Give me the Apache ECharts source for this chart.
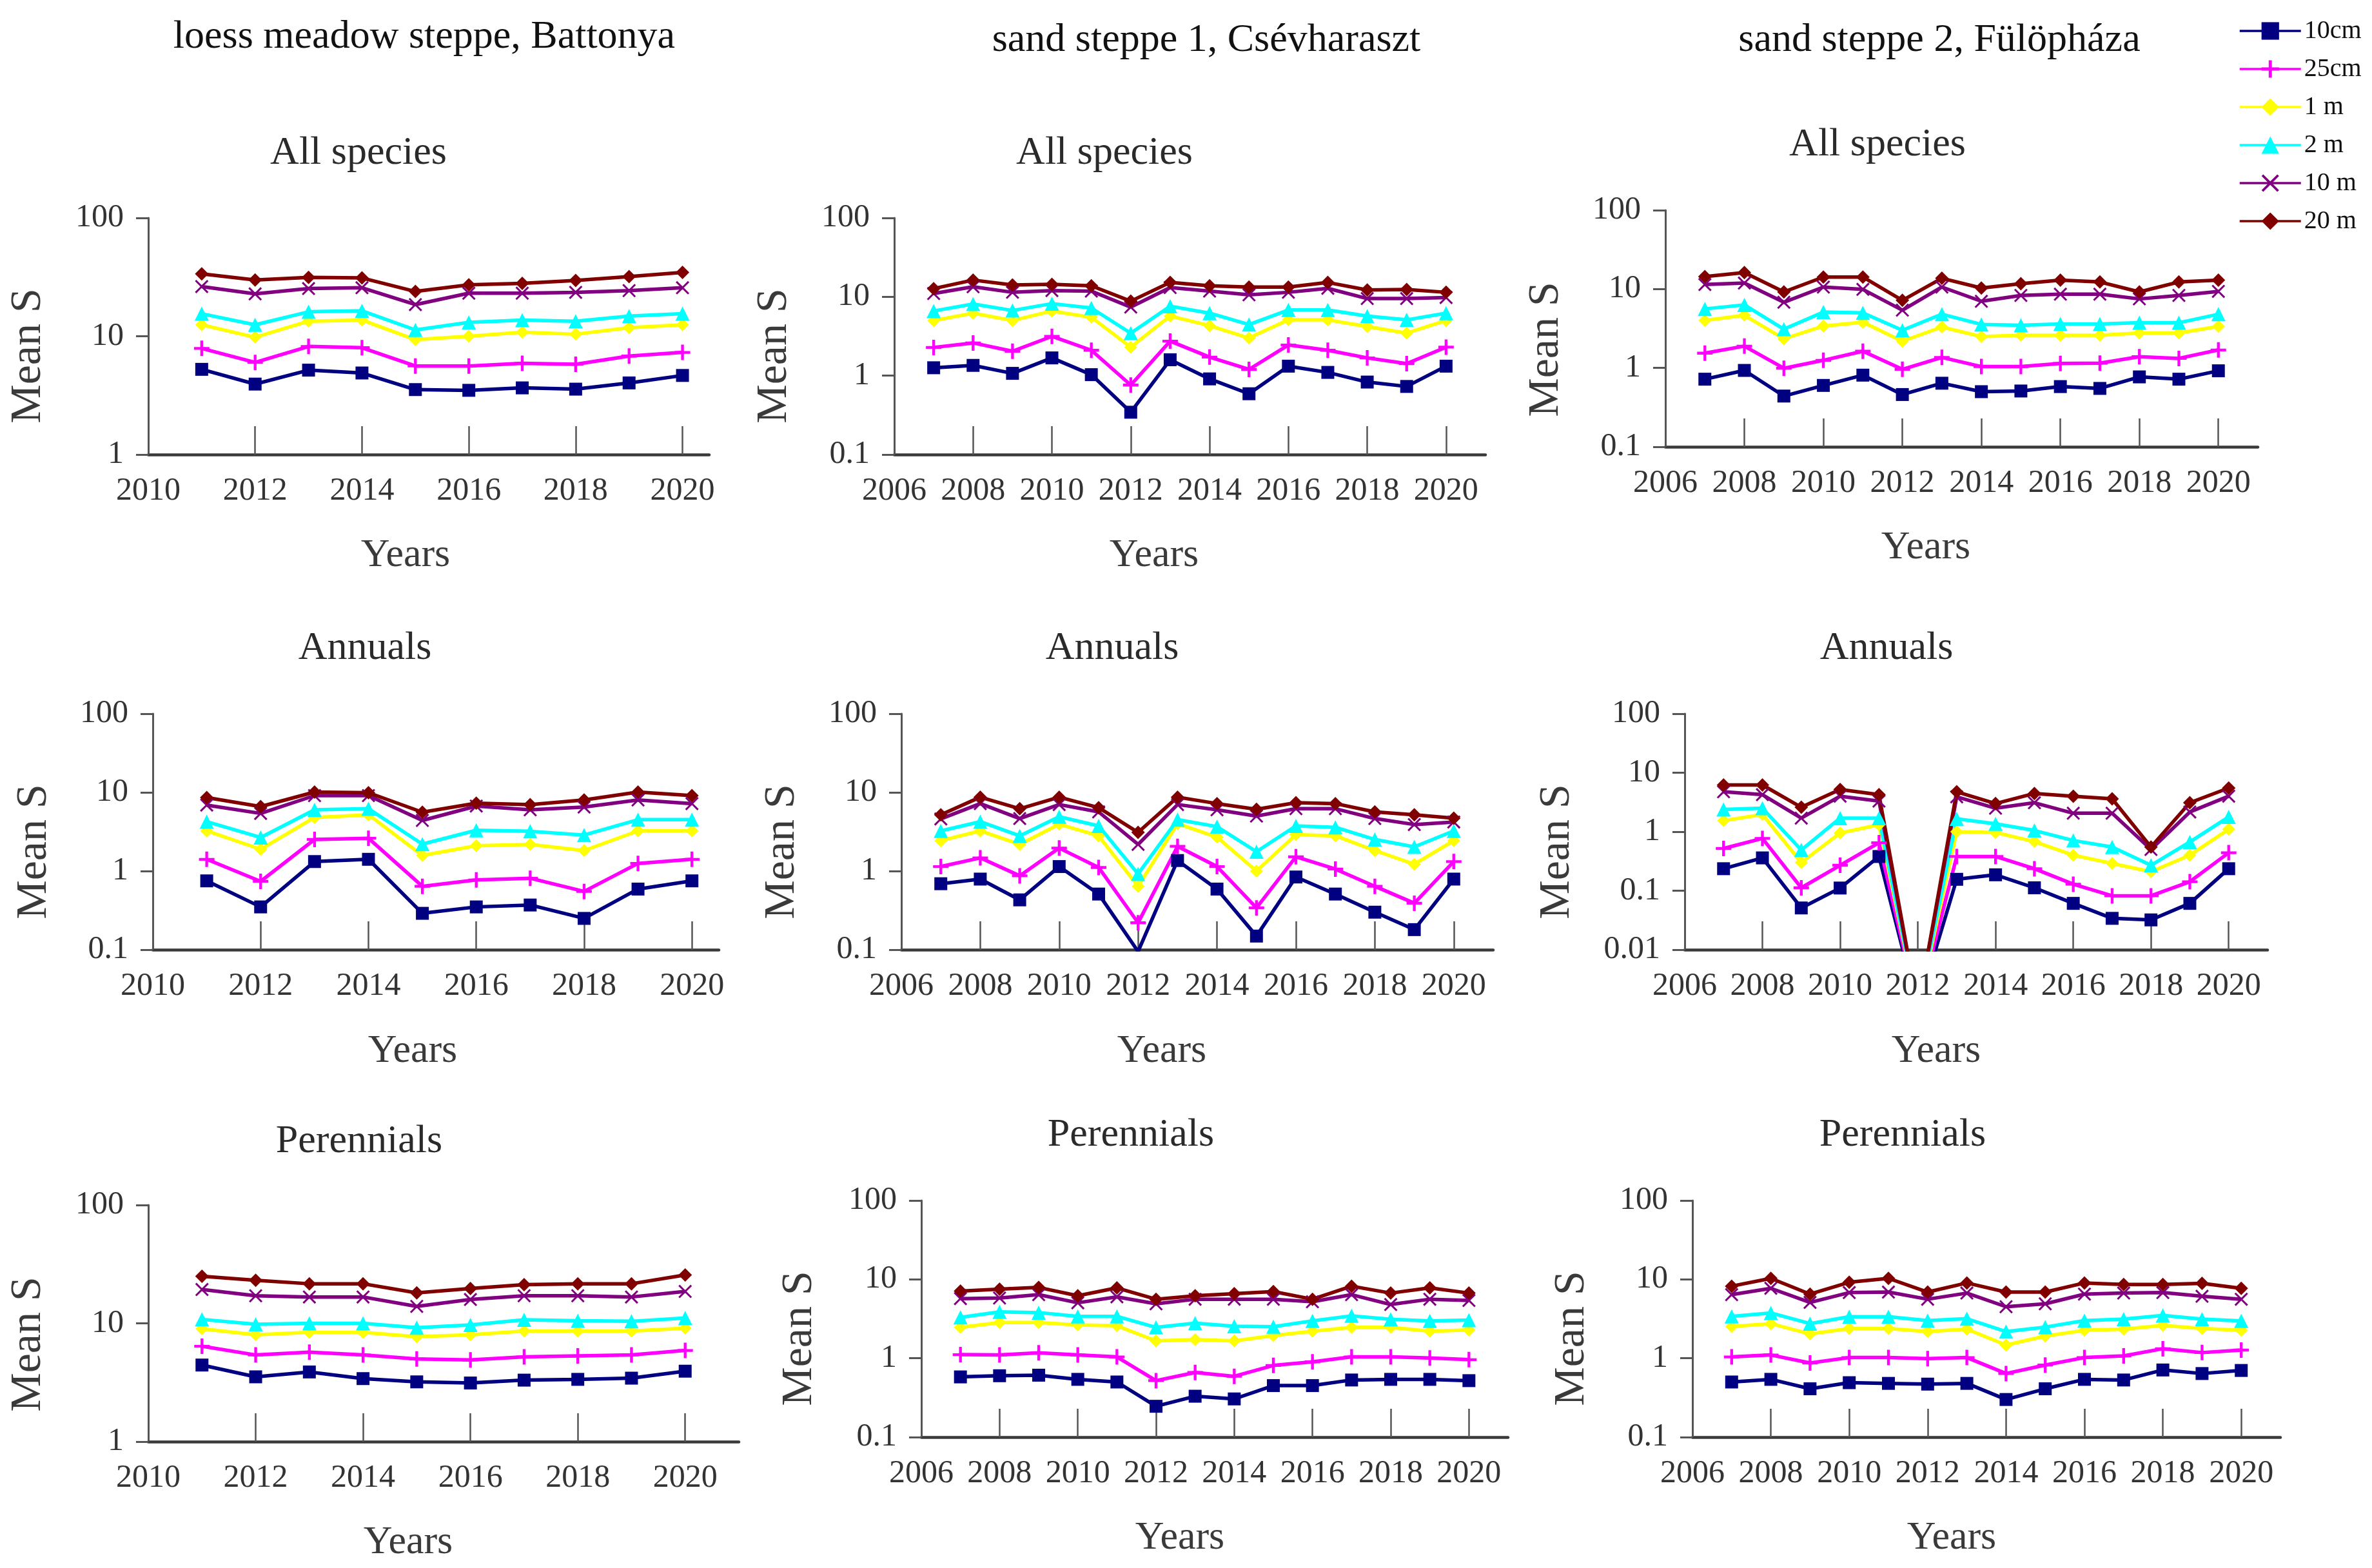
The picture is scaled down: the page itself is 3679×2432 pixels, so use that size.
<!DOCTYPE html>
<html>
<head>
<meta charset="utf-8">
<script src="https://cdn.jsdelivr.net/npm/echarts@6/dist/echarts.min.js"></script>
<style>
html,body{margin:0;padding:0;background:#fff;}
#chart{width:3679px;height:2432px;}
</style>
</head>
<body>
<div id="chart"></div>
<script>
// ---------- categories / ticks ----------
const seriesNames = ['10cm', '25cm', '1 m', '2 m', '10 m', '20 m'];
const siteTitles = ['loess meadow steppe, Battonya', 'sand steppe 1, Csévharaszt', 'sand steppe 2, Fülöpháza'];
const groupTitles = ['All species', 'Annuals', 'Perennials'];
const axisNameX = 'Years';
const axisNameY = 'Mean S';

const yearsBattonya = [2011, 2012, 2013, 2014, 2015, 2016, 2017, 2018, 2019, 2020];
const yearsSand = [2007, 2008, 2009, 2010, 2011, 2012, 2013, 2014, 2015, 2016, 2017, 2018, 2019, 2020];
const xTicksBattonya = [2010, 2012, 2014, 2016, 2018, 2020];
const xTicksSand = [2006, 2008, 2010, 2012, 2014, 2016, 2018, 2020];
const yTicks1 = [1, 10, 100];
const yTicks01 = [0.1, 1, 10, 100];
const yTicks001 = [0.01, 0.1, 1, 10, 100];

// ---------- Battonya, All species (2011-2020) ----------
const batAll10cm = [5.25, 3.94, 5.17, 4.89, 3.54, 3.49, 3.66, 3.57, 4.03, 4.66];
const batAll25cm = [7.9, 6.0, 8.2, 8.0, 5.6, 5.6, 5.9, 5.8, 6.8, 7.3];
const batAll1m = [12.5, 9.8, 13.4, 13.7, 9.35, 10.0, 10.8, 10.4, 11.8, 12.5];
const batAll2m = [15.5, 12.5, 16.1, 16.4, 11.3, 13.1, 13.7, 13.4, 14.8, 15.5];
const batAll10m = [26.3, 22.8, 25.3, 25.7, 18.5, 23.1, 23.1, 23.5, 24.3, 25.7];
const batAll20m = [33.7, 29.9, 31.4, 31.1, 23.9, 27.2, 28.0, 29.6, 31.9, 34.6];

// ---------- Csévharaszt, All species (2007-2020) ----------
const csvAll10cm = [1.26, 1.35, 1.07, 1.68, 1.03, 0.344, 1.59, 0.91, 0.59, 1.32, 1.1, 0.83, 0.73, 1.32];
const csvAll25cm = [2.28, 2.6, 2.04, 3.15, 2.1, 0.76, 2.74, 1.72, 1.2, 2.45, 2.1, 1.68, 1.42, 2.3];
const csvAll1m = [5.0, 6.2, 5.0, 6.6, 5.5, 2.3, 5.7, 4.3, 3.0, 5.1, 5.1, 4.2, 3.46, 5.0];
const csvAll2m = [6.6, 8.1, 6.7, 8.2, 7.2, 3.46, 7.6, 6.2, 4.45, 6.8, 6.8, 5.7, 5.1, 6.2];
const csvAll10m = [11.0, 13.4, 11.4, 12.0, 11.8, 7.4, 13.1, 11.8, 10.6, 11.4, 12.8, 9.5, 9.5, 9.8];
const csvAll20m = [12.7, 16.3, 14.1, 14.4, 13.8, 8.8, 15.2, 13.8, 13.3, 13.3, 15.2, 12.2, 12.4, 11.4];

// ---------- Fülöpháza, All species (2007-2020) ----------
const fulAll10cm = [0.72, 0.93, 0.44, 0.6, 0.81, 0.46, 0.64, 0.5, 0.51, 0.58, 0.55, 0.77, 0.72, 0.92];
const fulAll25cm = [1.54, 1.89, 0.99, 1.25, 1.63, 0.96, 1.36, 1.04, 1.04, 1.14, 1.15, 1.39, 1.32, 1.69];
const fulAll1m = [4.0, 4.65, 2.34, 3.4, 3.8, 2.18, 3.3, 2.5, 2.6, 2.6, 2.6, 2.77, 2.77, 3.36];
const fulAll2m = [5.6, 6.3, 3.1, 5.1, 5.0, 3.0, 4.8, 3.56, 3.48, 3.6, 3.6, 3.74, 3.74, 4.8];
const fulAll10m = [11.4, 11.9, 6.8, 10.6, 9.9, 5.4, 10.6, 7.0, 8.3, 8.6, 8.6, 7.5, 8.3, 9.35];
const fulAll20m = [14.4, 16.2, 9.2, 14.2, 14.2, 7.2, 13.7, 10.3, 11.7, 13.0, 12.3, 9.2, 12.3, 13.0];

// ---------- Battonya, Annuals ----------
const batAnn10cm = [0.75, 0.35, 1.32, 1.41, 0.29, 0.35, 0.37, 0.25, 0.59, 0.75];
const batAnn25cm = [1.41, 0.74, 2.52, 2.61, 0.64, 0.77, 0.81, 0.55, 1.25, 1.41];
const batAnn1m = [3.24, 1.89, 4.8, 5.2, 1.58, 2.1, 2.18, 1.82, 3.24, 3.24];
const batAnn2m = [4.24, 2.67, 6.0, 6.2, 2.2, 3.3, 3.2, 2.87, 4.5, 4.5];
const batAnn10m = [6.9, 5.4, 9.1, 9.1, 4.4, 6.7, 6.0, 6.5, 8.0, 7.2];
const batAnn20m = [8.6, 6.6, 10.1, 9.9, 5.6, 7.3, 7.0, 8.0, 10.1, 9.1];

// ---------- Csévharaszt, Annuals ----------
const csvAnn10cm = [0.69, 0.79, 0.43, 1.14, 0.51, 0.095, 1.36, 0.59, 0.149, 0.84, 0.51, 0.30, 0.18, 0.79];
const csvAnn25cm = [1.14, 1.47, 0.87, 1.96, 1.11, 0.22, 2.06, 1.14, 0.34, 1.52, 1.06, 0.64, 0.39, 1.32];
const csvAnn1m = [2.43, 3.24, 2.18, 3.94, 2.8, 0.64, 4.0, 2.7, 1.0, 2.9, 2.8, 1.82, 1.22, 2.43];
const csvAnn2m = [3.24, 4.24, 2.8, 4.9, 3.75, 0.92, 4.5, 3.67, 1.76, 3.75, 3.6, 2.52, 2.03, 3.24];
const csvAnn10m = [4.6, 7.2, 4.65, 7.0, 5.65, 2.18, 7.0, 6.0, 5.0, 6.2, 6.2, 4.65, 3.9, 4.2];
const csvAnn20m = [5.2, 8.7, 6.2, 8.7, 6.4, 3.1, 8.7, 7.2, 6.1, 7.4, 7.2, 5.65, 5.2, 4.7];

// ---------- Fülöpháza, Annuals (2012 = 0) ----------
const fulAnn10cm = [0.236, 0.36, 0.051, 0.111, 0.38, 0, 0.156, 0.186, 0.112, 0.061, 0.034, 0.032, 0.061, 0.236];
const fulAnn25cm = [0.52, 0.77, 0.112, 0.27, 0.65, 0, 0.38, 0.38, 0.236, 0.129, 0.082, 0.082, 0.142, 0.44];
const fulAnn1m = [1.54, 1.96, 0.3, 0.95, 1.31, 0, 1.0, 0.97, 0.68, 0.4, 0.29, 0.21, 0.4, 1.1];
const fulAnn2m = [2.38, 2.5, 0.49, 1.7, 1.7, 0, 1.65, 1.36, 1.05, 0.71, 0.55, 0.27, 0.67, 1.78];
const fulAnn10m = [4.75, 4.24, 1.7, 4.0, 3.3, 0, 3.9, 2.5, 3.1, 2.06, 2.06, 0.5, 2.16, 4.0];
const fulAnn20m = [6.2, 6.2, 2.6, 5.2, 4.24, 0, 4.75, 3.0, 4.45, 4.0, 3.6, 0.55, 3.1, 5.5];

// ---------- Battonya, Perennials ----------
const batPer10cm = [4.44, 3.53, 3.88, 3.41, 3.2, 3.13, 3.31, 3.36, 3.44, 3.94];
const batPer25cm = [6.4, 5.4, 5.7, 5.4, 5.0, 4.9, 5.2, 5.3, 5.4, 5.9];
const batPer1m = [9.0, 8.0, 8.4, 8.4, 7.7, 8.0, 8.6, 8.6, 8.6, 9.1];
const batPer2m = [10.8, 9.8, 10.0, 10.0, 9.2, 9.7, 10.7, 10.5, 10.4, 11.1];
const batPer10m = [19.3, 17.1, 16.7, 16.7, 13.9, 15.9, 17.1, 17.1, 16.7, 18.6];
const batPer20m = [25.0, 23.1, 21.6, 21.6, 18.1, 19.7, 21.2, 21.6, 21.6, 25.6];

// ---------- Csévharaszt, Perennials ----------
const csvPer10cm = [0.58, 0.6, 0.61, 0.54, 0.5, 0.246, 0.33, 0.305, 0.45, 0.45, 0.53, 0.54, 0.54, 0.52];
const csvPer25cm = [1.11, 1.1, 1.17, 1.1, 1.04, 0.52, 0.66, 0.59, 0.81, 0.9, 1.04, 1.04, 1.01, 0.96];
const csvPer1m = [2.46, 2.84, 2.84, 2.64, 2.58, 1.66, 1.72, 1.66, 1.94, 2.2, 2.46, 2.46, 2.2, 2.29];
const csvPer2m = [3.3, 3.87, 3.79, 3.4, 3.4, 2.46, 2.78, 2.55, 2.51, 2.98, 3.45, 3.12, 2.98, 3.05];
const csvPer10m = [5.7, 5.8, 6.4, 5.05, 6.0, 4.9, 5.6, 5.6, 5.6, 5.2, 6.4, 4.8, 5.6, 5.4];
const csvPer20m = [7.1, 7.5, 7.9, 6.2, 7.8, 5.6, 6.2, 6.6, 7.0, 5.6, 8.2, 6.7, 7.8, 6.7];

// ---------- Fülöpháza, Perennials ----------
const fulPer10cm = [0.50, 0.54, 0.41, 0.49, 0.48, 0.47, 0.48, 0.30, 0.41, 0.54, 0.53, 0.71, 0.64, 0.70];
const fulPer25cm = [1.04, 1.1, 0.87, 1.02, 1.02, 0.99, 1.02, 0.64, 0.82, 1.02, 1.07, 1.32, 1.18, 1.27];
const fulPer1m = [2.52, 2.75, 2.03, 2.38, 2.38, 2.18, 2.34, 1.47, 1.91, 2.26, 2.34, 2.61, 2.38, 2.26];
const fulPer2m = [3.4, 3.75, 2.75, 3.36, 3.36, 3.0, 3.17, 2.18, 2.48, 3.0, 3.13, 3.49, 3.13, 2.97];
const fulPer10m = [6.4, 7.7, 5.1, 6.8, 6.9, 5.6, 6.7, 4.5, 4.9, 6.5, 6.7, 6.8, 6.1, 5.6];
const fulPer20m = [8.2, 10.3, 6.5, 9.2, 10.3, 6.9, 9.0, 6.9, 6.9, 9.0, 8.6, 8.6, 8.9, 7.7];

// ---------- styles ----------
const FONT = '"Liberation Serif", "DejaVu Serif", serif';
const COLORS = ['#000080', '#ff00ff', '#ffff00', '#00ffff', '#800080', '#800000'];
const PLUS = 'path://M4.1,0 L5.9,0 L5.9,4.1 L10,4.1 L10,5.9 L5.9,5.9 L5.9,10 L4.1,10 L4.1,5.9 L0,5.9 L0,4.1 L4.1,4.1 Z';
const XMARK = 'path://M1,0 L5,4 L9,0 L10,1 L6,5 L10,9 L9,10 L5,6 L1,10 L0,9 L4,5 L0,1 Z';
const SYMBOLS = ['rect', PLUS, 'diamond', 'triangle', XMARK, 'diamond'];
const SIZES = [20, 24, 20, 22, 21, 21];
// zero counts cannot sit on a log axis: drawn far below the axis floor (and clipped), like the source
const ZERO_ON_LOG = 0.001;

const panels = [
  { left: 230,  top: 338,  width: 870, height: 367, years: yearsBattonya, xt: xTicksBattonya, xmax: 2020.5, yt: yTicks1,
    data: [batAll10cm, batAll25cm, batAll1m, batAll2m, batAll10m, batAll20m],
    title: [556, 238], yname: [44, 552], xname: [629, 862] },
  { left: 1387, top: 338,  width: 917, height: 367, years: yearsSand, xt: xTicksSand, xmax: 2021, yt: yTicks01,
    data: [csvAll10cm, csvAll25cm, csvAll1m, csvAll2m, csvAll10m, csvAll20m],
    title: [1713, 238], yname: [1201, 552], xname: [1790, 862] },
  { left: 2583, top: 326,  width: 919, height: 367, years: yearsSand, xt: xTicksSand, xmax: 2021, yt: yTicks01,
    data: [fulAll10cm, fulAll25cm, fulAll1m, fulAll2m, fulAll10m, fulAll20m],
    title: [2912, 225], yname: [2398, 542], xname: [2987, 850] },
  { left: 237,  top: 1107, width: 878, height: 366, years: yearsBattonya, xt: xTicksBattonya, xmax: 2020.5, yt: yTicks01,
    data: [batAnn10cm, batAnn25cm, batAnn1m, batAnn2m, batAnn10m, batAnn20m],
    title: [566, 1006], yname: [53, 1321], xname: [640, 1631] },
  { left: 1398, top: 1107, width: 918, height: 366, years: yearsSand, xt: xTicksSand, xmax: 2021, yt: yTicks01,
    data: [csvAnn10cm, csvAnn25cm, csvAnn1m, csvAnn2m, csvAnn10m, csvAnn20m],
    title: [1725, 1006], yname: [1213, 1321], xname: [1802, 1631] },
  { left: 2613, top: 1107, width: 904, height: 366, years: yearsSand, xt: xTicksSand, xmax: 2021, yt: yTicks001,
    data: [fulAnn10cm, fulAnn25cm, fulAnn1m, fulAnn2m, fulAnn10m, fulAnn20m],
    title: [2926, 1006], yname: [2415, 1321], xname: [3003, 1631] },
  { left: 230,  top: 1869, width: 916, height: 367, years: yearsBattonya, xt: xTicksBattonya, xmax: 2021, yt: yTicks1,
    data: [batPer10cm, batPer25cm, batPer1m, batPer2m, batPer10m, batPer20m],
    title: [557, 1771], yname: [44, 2085], xname: [633, 2393] },
  { left: 1429, top: 1862, width: 910, height: 367, years: yearsSand, xt: xTicksSand, xmax: 2021, yt: yTicks01,
    data: [csvPer10cm, csvPer25cm, csvPer1m, csvPer2m, csvPer10m, csvPer20m],
    title: [1754, 1761], yname: [1240, 2076], xname: [1830, 2386] },
  { left: 2625, top: 1862, width: 912, height: 367, years: yearsSand, xt: xTicksSand, xmax: 2021, yt: yTicks01,
    data: [fulPer10cm, fulPer25cm, fulPer1m, fulPer2m, fulPer10m, fulPer20m],
    title: [2951, 1761], yname: [2438, 2076], xname: [3027, 2386] }
];
const siteTitlePos = [[658, 58], [1871, 63], [3008, 63]];

const grids = [], xAxes = [], yAxes = [], series = [], graphics = [];
panels.forEach((p, i) => {
  grids.push({ left: p.left, top: p.top, width: p.width, height: p.height, containLabel: false, outerBoundsMode: 'none' });
  xAxes.push({
    gridIndex: i, type: 'value', min: p.xt[0], max: p.xmax,
    axisLine: { onZero: false, lineStyle: { color: '#3a3a3a', width: 4.5 } },
    axisTick: { show: true, inside: true, length: 44, customValues: p.xt, lineStyle: { color: '#555', width: 2.5 } },
    axisLabel: { customValues: p.xt, margin: 32, fontSize: 50, fontFamily: FONT, color: '#333',
      formatter: v => String(Math.round(v)) },
    splitLine: { show: false }
  });
  yAxes.push({
    gridIndex: i, type: 'log', logBase: 10, min: p.yt[0], max: p.yt[p.yt.length - 1],
    axisLine: { show: true, lineStyle: { color: '#555', width: 3 } },
    axisTick: { show: true, inside: false, length: 19, lineStyle: { color: '#555', width: 3 } },
    axisLabel: { margin: 38, fontSize: 50, fontFamily: FONT, color: '#333',
      formatter: v => String(+Number(v).toPrecision(4)) },
    splitLine: { show: false }
  });
  p.data.forEach((arr, j) => {
    series.push({
      name: seriesNames[j], type: 'line', xAxisIndex: i, yAxisIndex: i, clip: true,
      symbol: SYMBOLS[j], symbolSize: SIZES[j],
      itemStyle: { color: COLORS[j] },
      lineStyle: { color: COLORS[j], width: 5.5 },
      emphasis: { disabled: true },
      animation: false,
      data: p.years.map((yr, k) => arr[k] === 0
        ? { value: [yr, ZERO_ON_LOG], symbol: 'none' }
        : [yr, arr[k]])
    });
  });
  const row = Math.floor(i / 3);
  graphics.push({ type: 'text', x: p.title[0], y: p.title[1],
    style: { text: groupTitles[row], fontSize: 62, fontFamily: FONT, fill: '#2a2a2a', align: 'center', verticalAlign: 'middle' } });
  graphics.push({ type: 'text', x: p.yname[0], y: p.yname[1], rotation: Math.PI / 2,
    style: { text: axisNameY, fontSize: 68, fontFamily: FONT, fill: '#3a3a3a', align: 'center', verticalAlign: 'middle' } });
  graphics.push({ type: 'text', x: p.xname[0], y: p.xname[1],
    style: { text: axisNameX, fontSize: 62, fontFamily: FONT, fill: '#3a3a3a', align: 'center', verticalAlign: 'middle' } });
});
siteTitles.forEach((t, i) => {
  graphics.push({ type: 'text', x: siteTitlePos[i][0], y: siteTitlePos[i][1],
    style: { text: t, fontSize: 62, fontFamily: FONT, fill: '#111', align: 'center', verticalAlign: 'middle' } });
});

const chart = echarts.init(document.getElementById('chart'), null, { renderer: 'canvas' });
chart.setOption({
  backgroundColor: '#ffffff',
  animation: false,
  legend: {
    data: seriesNames, orient: 'vertical', left: 3472, top: 28, padding: 0,
    itemWidth: 95, itemHeight: 34, itemGap: 19,
    lineStyle: { width: 3.5 },
    textStyle: { fontSize: 40, fontFamily: FONT, color: '#111' },
    selectedMode: false
  },
  grid: grids,
  xAxis: xAxes,
  yAxis: yAxes,
  series: series,
  graphic: graphics
});
</script>
</body>
</html>
